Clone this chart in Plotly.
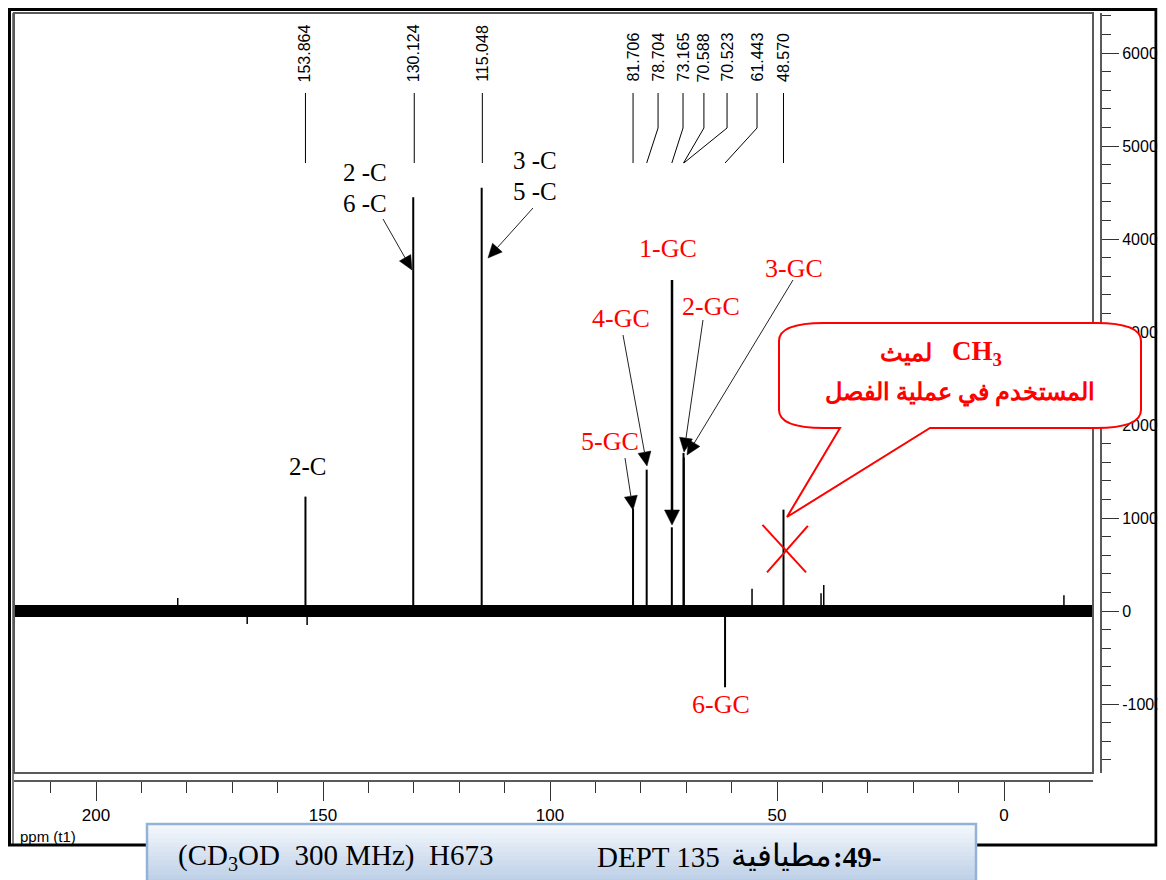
import math
import plotly.graph_objects as go

# ---------------- data ----------------
peak_ppm = [153.864, 130.124, 115.048, 81.706, 78.704, 73.165, 70.588, 70.523, 61.443, 48.570]
peak_int = [12300, 44500, 45500, 11000, 15200, 9000, 17000, 16500, -8200, 10900]
peak_labels = ["153.864", "130.124", "115.048", "81.706", "78.704", "73.165",
               "70.588", "70.523", "61.443", "48.570"]
# where each rotated peak label is printed (ppm)
label_ppm = [153.864, 129.9, 114.9, 81.706, 76.2, 70.7, 66.1, 61.0, 54.4, 48.570]

minor_ppm = [182.0, 166.7, 153.5, 55.5, 40.3, 39.7, -13.2]
minor_int = [1400, -1400, -1500, 2400, 1900, 2800, 1700]

x_tick_vals = [200, 150, 100, 50, 0]
x_tick_text = ["200", "150", "100", "50", "0"]
y_tick_vals = [60000, 50000, 40000, 30000, 20000, 10000, 0, -10000]
y_tick_text = ["60000", "50000", "40000", "30000", "20000", "10000", "0", "-10000"]

# ---------------- geometry (page pixels of the reference) ----------------
OFF = 8                      # page body margin
W, H = 1166 - OFF, 880 - OFF
PX_L, PX_R = 14, 1101
PY_T, PY_B = 13, 781
FRAME_R, FRAME_B = 1093, 773
VISIBLE_R = 1158             # right-most visible page pixel
PPM_ZERO_PX, PX_PER_PPM = 1004, 4.54
VAL_ZERO_PY, PX_PER_VAL = 611, 93 / 10000


def ppm_at(px):
    return (PPM_ZERO_PX - px) / PX_PER_PPM


def val_at(py):
    return (VAL_ZERO_PY - py) / PX_PER_VAL


def pxp(px):
    return (px - PX_L) / (PX_R - PX_L)


def pyp(py):
    return (PY_B - py) / (PY_B - PY_T)


x_range = [ppm_at(PX_L), ppm_at(FRAME_R)]
y_range = [val_at(FRAME_B), val_at(PY_T)]

SERIF = "Liberation Serif, Times New Roman, serif"
SANS = "Liberation Sans, Arial, sans-serif"

fig = go.Figure()

# baseline (noise band)
fig.add_trace(go.Scatter(x=x_range, y=[0, 0], mode="lines",
                         line=dict(color="black", width=12), hoverinfo="skip"))

# minor peaks
mx, my = [], []
for p, h in zip(minor_ppm, minor_int):
    mx += [p, p, None]
    my += [0, h, None]
fig.add_trace(go.Scatter(x=mx, y=my, mode="lines", line=dict(color="black", width=1.5),
                         hoverinfo="skip"))

# main peaks
px_, py_ = [], []
for p, h in zip(peak_ppm, peak_int):
    px_ += [p, p, None]
    py_ += [0, h, None]
fig.add_trace(go.Scatter(x=px_, y=py_, mode="lines", line=dict(color="black", width=2),
                         hoverinfo="skip"))

shapes = []
annotations = []


def P(x, y):
    return f"{pxp(x):.5f},{pyp(y):.5f}"


# outer frame
shapes.append(dict(type="rect", xref="paper", yref="paper",
                   x0=pxp(9.5), x1=pxp(VISIBLE_R - 2), y0=pyp(845), y1=pyp(9.5),
                   line=dict(color="black", width=3), layer="above"))
shapes.append(dict(type="line", xref="paper", yref="paper",
                   x0=pxp(13), x1=pxp(13), y0=pyp(845), y1=pyp(13),
                   line=dict(color="black", width=1), layer="above"))
# plot frame
shapes.append(dict(type="rect", xref="paper", yref="paper",
                   x0=0, x1=pxp(FRAME_R), y0=pyp(FRAME_B), y1=1,
                   line=dict(color="#5a5a5a", width=2), layer="above"))
# clip strip right of the frame
shapes.append(dict(type="rect", xref="paper", yref="paper",
                   x0=pxp(VISIBLE_R - 0.5), x1=pxp(1200), y0=pyp(900), y1=pyp(0),
                   fillcolor="white", line=dict(width=0), layer="above"))

# leader lines for peak labels
for lp, pk in zip(label_ppm, peak_ppm):
    if abs(lp - pk) < 0.3:
        path = f"M {lp},{pyp(93)} L {lp},{pyp(163)}"
    else:
        path = f"M {lp},{pyp(93)} L {lp},{pyp(128)} L {pk},{pyp(163)}"
    shapes.append(dict(type="path", xref="x", yref="paper", path=path,
                       line=dict(color="black", width=1)))

for lab, lp in zip(peak_labels, label_ppm):
    annotations.append(dict(x=lp, xref="x", y=pyp(84), yref="paper", text=lab,
                            textangle=-90, showarrow=False, xanchor="center",
                            yanchor="bottom", font=dict(family=SANS, size=16, color="black")))

# red X over the solvent peak
cx, cy = 48.2, 6560
shapes.append(dict(type="line", xref="x", yref="y", x0=cx + 5, x1=cx - 4.6, y0=cy + 2700,
                   y1=cy - 2400, line=dict(color="red", width=2)))
shapes.append(dict(type="line", xref="x", yref="y", x0=cx - 5, x1=cx + 4, y0=cy + 2600,
                   y1=cy - 2400, line=dict(color="red", width=2)))

# callout bubble
BL, BR, BT, BB, RX, RY = 779, 1141, 323, 428, 45, 18
bubble = (f"M {P(BL + RX, BT)} L {P(BR - RX, BT)} Q {P(BR, BT)} {P(BR, BT + RY)} "
          f"L {P(BR, BB - RY)} Q {P(BR, BB)} {P(BR - RX, BB)} L {P(930, BB)} "
          f"L {P(787, 517)} L {P(840, BB)} L {P(BL + RX, BB)} Q {P(BL, BB)} {P(BL, BB - RY)} "
          f"L {P(BL, BT + RY)} Q {P(BL, BT)} {P(BL + RX, BT)} Z")
shapes.append(dict(type="path", xref="paper", yref="paper", path=bubble,
                   fillcolor="white", line=dict(color="red", width=2), layer="above"))

# caption box with vertical gradient
CB_L, CB_R, CB_T, CB_B = 147, 976, 824, 888
n = 14
c0 = (243, 247, 252)
c1 = (183, 203, 228)
for i in range(n):
    t = i / (n - 1)
    col = "rgb({},{},{})".format(*[round(a + (b - a) * t) for a, b in zip(c0, c1)])
    y0 = CB_T + (CB_B - CB_T) * i / n
    y1 = CB_T + (CB_B - CB_T) * (i + 1) / n
    shapes.append(dict(type="rect", xref="paper", yref="paper",
                       x0=pxp(CB_L), x1=pxp(CB_R), y0=pyp(y1 + 0.5), y1=pyp(y0),
                       fillcolor=col, line=dict(width=0), layer="above"))
shapes.append(dict(type="rect", xref="paper", yref="paper",
                   x0=pxp(CB_L), x1=pxp(CB_R), y0=pyp(CB_B), y1=pyp(CB_T),
                   line=dict(color="#93b2d8", width=2.5), layer="above"))


def txt(x, y, s, size, color="black", family=SERIF, xanchor="center", bold=False):
    if bold:
        s = f"<b>{s}</b>"
    annotations.append(dict(x=pxp(x), y=pyp(y), xref="paper", yref="paper", text=s,
                            showarrow=False, xanchor=xanchor, yanchor="middle",
                            font=dict(family=family, size=size, color=color)))


def arrow(hx, hy, tx, ty, width=1.0, hl=15, hw=13, color="#222"):
    dx, dy = hx - tx, hy - ty
    ln = math.hypot(dx, dy)
    ux, uy = dx / ln, dy / ln
    bx, by = hx - ux * (hl - 1), hy - uy * (hl - 1)
    qx, qy = -uy, ux
    shapes.append(dict(type="path", xref="paper", yref="paper",
                       path=f"M {P(tx, ty)} L {P(bx, by)}",
                       line=dict(color=color, width=width), layer="above"))
    shapes.append(dict(type="path", xref="paper", yref="paper",
                       path=(f"M {P(hx, hy)} L {P(bx + qx * hw / 2, by + qy * hw / 2)} "
                             f"L {P(bx - qx * hw / 2, by - qy * hw / 2)} Z"),
                       fillcolor="black", line=dict(color="black", width=0.5), layer="above"))


# black labels
txt(365, 172, "2 -C", 25)
txt(365, 203, "6 -C", 25)
txt(535, 160, "3 -C", 25)
txt(535, 192, "5 -C", 25)
txt(308, 467, "2-C", 25)
arrow(412, 270, 383, 219)
arrow(488, 258, 533, 208)

# red labels
txt(668, 248, "1-GC", 26, color="red")
txt(711, 306, "2-GC", 26, color="red")
txt(794, 268, "3-GC", 26, color="red")
txt(621, 318, "4-GC", 26, color="red")
txt(610, 441, "5-GC", 26, color="red")
txt(721, 704, "6-GC", 26, color="red")
arrow(672, 525, 672, 280, width=2.5, hl=16, hw=15, color="black")
arrow(684, 452, 703, 320)
arrow(687, 455, 793, 280)
arrow(647, 466, 623, 335)
arrow(633, 510, 625, 458)

# callout text
txt(977, 353, "CH<sub>3</sub>", 27, color="red", bold=True)
txt(906, 353, "لميث", 24, color="red", bold=True)
txt(960, 393, "المستخدم في عملية الفصل", 24, color="red", bold=True)

# axis caption
txt(18, 836, "ppm (t1)", 15, family=SANS, xanchor="left")

# figure caption
txt(176, 857, "(CD<sub>3</sub>OD\u00a0\u00a0300 MHz)\u00a0\u00a0H673", 29, xanchor="left")
txt(595, 857, "DEPT 135", 29, xanchor="left")
txt(781, 855, "مطيافية", 31)
txt(857, 857, ":49-", 29, bold=True)

fig.update_layout(
    width=W, height=H, autosize=False,
    margin=dict(l=PX_L - OFF, r=W - (PX_R - OFF), t=PY_T - OFF, b=H - (PY_B - OFF), pad=0,
                autoexpand=False),
    paper_bgcolor="white", plot_bgcolor="white", showlegend=False,
    xaxis=dict(domain=[0, pxp(FRAME_R)], range=x_range, anchor="free", position=0,
               automargin=False,
               showline=True, linecolor="#5a5a5a", linewidth=2, mirror=False,
               tickmode="array", tickvals=x_tick_vals, ticktext=x_tick_text,
               ticks="outside", ticklen=19, tickwidth=1, tickcolor="#333",
               minor=dict(dtick=10, tick0=0, ticks="outside", ticklen=11, tickwidth=1,
                          tickcolor="#333"),
               showgrid=False, zeroline=False,
               tickfont=dict(family=SANS, size=17, color="black")),
    yaxis=dict(domain=[pyp(FRAME_B), 1], range=y_range, side="right", anchor="free",
               position=1, automargin=False,
               showline=True, linecolor="#5a5a5a", linewidth=2,
               tickmode="array", tickvals=y_tick_vals, ticktext=y_tick_text,
               ticks="outside", ticklen=17, tickwidth=1, tickcolor="#333",
               minor=dict(dtick=2000, tick0=0, ticks="outside", ticklen=9, tickwidth=1,
                          tickcolor="#333"),
               showgrid=False, zeroline=False,
               tickfont=dict(family=SANS, size=16, color="black")),
    shapes=shapes, annotations=annotations,
)

fig.write_html("out.html")
